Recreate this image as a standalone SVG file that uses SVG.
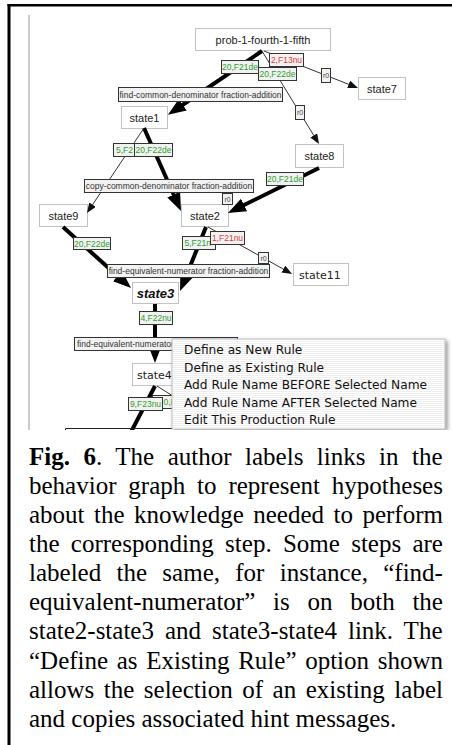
<svg xmlns="http://www.w3.org/2000/svg" width="452" height="745" viewBox="0 0 452 745">
<style>
.nb{fill:#fff;stroke:#c2c2c2;stroke-width:1}
.nt{font-family:'Liberation Sans',Arial,sans-serif;font-size:11px;fill:#222;text-anchor:middle}
.nm{font-family:'DejaVu Sans',sans-serif;font-size:11px;fill:#222}
.thick{stroke:#000;stroke-width:4;fill:none}
.thin{stroke:#333;stroke-width:1;fill:none}
.lb{fill:#f2f2f2;stroke:#333;stroke-width:1}
.lt{font-family:'Liberation Sans',Arial,sans-serif;font-size:8.5px;text-anchor:middle}
.ls{font-family:'Liberation Sans',Arial,sans-serif;font-size:8.5px}
.rule{fill:#333}
.g{fill:#2f9e2f}
.r{fill:#e03a3a}
.r0{font-family:'Liberation Sans',Arial,sans-serif;font-size:7px;fill:#444;text-anchor:middle}
.mi{font-family:'DejaVu Sans',sans-serif;font-size:12.2px;fill:#111}
.cap{font-family:'Liberation Serif','Times New Roman',serif;font-size:25px;fill:#000}
</style>
<defs>
<marker id="ah" viewBox="0 0 18 14" markerWidth="18" markerHeight="14" markerUnits="userSpaceOnUse" refX="4" refY="7" orient="auto"><path d="M0,0 L18,7 L0,14 z" fill="#000"/></marker>
<marker id="at" viewBox="0 0 10 8" markerWidth="10" markerHeight="8" markerUnits="userSpaceOnUse" refX="1" refY="4" orient="auto"><path d="M0,0 L10,4 L0,8 z" fill="#111"/></marker>
<pattern id="stripes" width="4" height="2" patternUnits="userSpaceOnUse"><rect width="4" height="2" fill="#fff"/><rect y="1" width="4" height="1" fill="#efefef"/></pattern>
<clipPath id="shot"><rect x="0" y="0" width="452" height="430"/></clipPath>
<filter id="sh" x="-10%" y="-10%" width="125%" height="130%"><feGaussianBlur in="SourceAlpha" stdDeviation="2"/><feOffset dx="2" dy="2"/><feComponentTransfer><feFuncA type="linear" slope="0.45"/></feComponentTransfer><feMerge><feMergeNode/><feMergeNode in="SourceGraphic"/></feMerge></filter>
</defs>
<rect width="452" height="745" fill="#fff"/>
<g id="frame">
<line x1="9" y1="4" x2="9" y2="745" stroke="#000" stroke-width="3"/>
<line x1="7.5" y1="5.2" x2="452" y2="5.2" stroke="#000" stroke-width="2.5"/>
<line x1="29" y1="15" x2="29" y2="430" stroke="#a8a8a8" stroke-width="1.2"/>
</g>
<g clip-path="url(#shot)">
<g id="prob"><rect class="nb" x="195.5" y="28.5" width="135" height="22"/><text class="nt" x="263" y="43.5">prob-1-fourth-1-fifth</text></g>
<g id="state7"><rect class="nb" x="358.5" y="77.5" width="47" height="22"/><text class="nt" x="382" y="92.5">state7</text></g>
<g id="state1"><rect class="nb" x="121.5" y="106.5" width="46" height="22"/><text class="nt" x="144.5" y="121.5">state1</text></g>
<g id="state8"><rect class="nb" x="295.5" y="144.5" width="48" height="23"/><text class="nt" x="319.5" y="160">state8</text></g>
<g id="state9"><rect class="nb" x="39.5" y="204.5" width="48" height="22"/><text class="nt" x="63.5" y="219.5">state9</text></g>
<g id="state2"><rect class="nb" x="181.5" y="204.5" width="47" height="22"/><text class="nt" x="205" y="219.5">state2</text></g>
<g id="state11"><rect class="nb" x="293.5" y="263.5" width="55" height="22"/><text class="nm" x="299" y="278.5">state11</text></g>
<g id="state3"><rect class="nb" x="132.5" y="282.5" width="46" height="21"/><text class="nt" x="155.5" y="297.5" style="font-weight:bold;font-style:italic;font-size:13px;fill:#111">state3</text></g>
<g id="state4"><rect class="nb" x="132.5" y="363.5" width="48" height="22"/><text class="nm" x="137" y="378.5">state4</text></g>
<g id="connectors">
<line class="thick" x1="262" y1="51" x2="179.5" y2="107" marker-end="url(#ah)"/>
<line class="thin" x1="264" y1="51" x2="349.6" y2="84.7" marker-end="url(#at)"/>
<line class="thin" x1="262" y1="51" x2="314.3" y2="136.3" marker-end="url(#at)"/>
<line class="thick" x1="144" y1="128" x2="175.3" y2="198.2" marker-end="url(#ah)"/>
<line class="thin" x1="144" y1="128" x2="92" y2="205.5" marker-end="url(#at)"/>
<line class="thick" x1="319" y1="168" x2="240.5" y2="206.8" marker-end="url(#ah)"/>
<line class="thick" x1="206" y1="227" x2="185.3" y2="278" marker-end="url(#ah)"/>
<line class="thin" x1="208" y1="227" x2="284.2" y2="269.6" marker-end="url(#at)"/>
<line class="thick" x1="63" y1="227" x2="120.6" y2="278.7" marker-end="url(#ah)"/>
<line class="thick" x1="155" y1="304" x2="155" y2="349" marker-end="url(#ah)"/>
<line class="thick" x1="155" y1="386" x2="131" y2="432"/>
<line class="thin" x1="157" y1="386" x2="176" y2="398"/>
<path class="thin" d="M65.5,432 V428.5 H200" style="stroke:#222"/>
</g>
<g id="labels">
<g><rect class="lb" x="118.5" y="87.5" width="164" height="14"/><text class="lt rule" x="200.5" y="97.5">find-common-denominator fraction-addition</text></g>
<g><rect class="lb" x="221.5" y="60.5" width="37" height="13"/><text class="lt g" x="240" y="70">20,F21de</text></g>
<g><rect class="lb" x="269.5" y="53.5" width="34" height="13"/><text class="lt r" x="286.5" y="63">2,F13nu</text></g>
<g><rect class="lb" x="258.5" y="67.5" width="38" height="13"/><text class="lt g" x="277.5" y="77">20,F22de</text></g>
<g><rect class="lb" x="321.5" y="68.5" width="9" height="14"/><text class="r0" x="326" y="78">r0</text></g>
<g><rect class="lb" x="295.5" y="105.5" width="9" height="14"/><text class="r0" x="300" y="115">r0</text></g>
<g><rect class="lb" x="113.5" y="143.5" width="37" height="13"/><text class="ls g" x="116" y="153">5,F2</text></g>
<g><rect class="lb" x="134.5" y="143.5" width="38" height="13"/><text class="lt g" x="153.5" y="153">20,F22de</text></g>
<g><rect class="lb" x="266.5" y="172.5" width="37" height="13"/><text class="lt g" x="285" y="182">20,F21de</text></g>
<g><rect class="lb" x="84.5" y="179.5" width="169" height="13"/><text class="lt rule" x="169" y="189">copy-common-denominator fraction-addition</text></g>
<g><rect class="lb" x="222.5" y="193.5" width="10" height="11"/><text class="r0" x="227.5" y="201.5">r0</text></g>
<g><rect class="lb" x="73.5" y="237.5" width="37" height="12"/><text class="lt g" x="92" y="246.5">20,F22de</text></g>
<g><rect class="lb" x="182.5" y="236.5" width="33" height="13"/><text class="ls g" x="184.5" y="246">5,F21n</text></g>
<g><rect class="lb" x="210.5" y="231.5" width="34" height="13"/><text class="lt r" x="227.5" y="241">1,F21nu</text></g>
<g><rect class="lb" x="258.5" y="252.5" width="10" height="11"/><text class="r0" x="263.5" y="260.5">r0</text></g>
<g><rect class="lb" x="107.5" y="264.5" width="162" height="13"/><text class="lt rule" x="188.5" y="274">find-equivalent-numerator fraction-addition</text></g>
<g><rect class="lb" x="139.5" y="311.5" width="33" height="13"/><text class="lt g" x="156" y="321">4,F22nu</text></g>
<g><rect class="lb" x="74.5" y="337.5" width="163" height="13"/><text class="ls rule" x="77" y="347">find-equivalent-numerator</text></g>
<g><rect class="lb" x="152.5" y="395.5" width="38" height="13"/><text class="ls g" x="163.5" y="405">0,F</text></g>
<g><rect class="lb" x="128.5" y="397.5" width="34" height="13"/><text class="lt g" x="145.5" y="407">9,F23nu</text></g>
</g>
<g id="menu">
<rect x="172" y="339" width="273" height="90" fill="url(#stripes)" stroke="#b4b4b4" stroke-width="0.8" filter="url(#sh)"/>
<text class="mi" x="184" y="354">Define as New Rule</text>
<text class="mi" x="184" y="371.6">Define as Existing Rule</text>
<text class="mi" x="184" y="389.2">Add Rule Name BEFORE Selected Name</text>
<text class="mi" x="184" y="406.8">Add Rule Name AFTER Selected Name</text>
<text class="mi" x="184" y="424.4">Edit This Production Rule</text>
</g>
</g>
<g id="caption">
<text class="cap" x="29" y="465" word-spacing="7.26"><tspan font-weight="bold">Fig. 6</tspan>. The author labels links in the</text>
<text class="cap" x="29" y="494.1" word-spacing="5.6">behavior graph to represent hypotheses</text>
<text class="cap" x="29" y="523.1" word-spacing="3.23">about the knowledge needed to perform</text>
<text class="cap" x="29" y="552.2" word-spacing="5.03">the corresponding step. Some steps are</text>
<text class="cap" x="29" y="581.3" word-spacing="9.07">labeled the same, for instance, “find-</text>
<text class="cap" x="29" y="610.4" word-spacing="11.5">equivalent-numerator” is on both the</text>
<text class="cap" x="29" y="639.4" word-spacing="4.73">state2-state3 and state3-state4 link. The</text>
<text class="cap" x="29" y="668.5" word-spacing="2.39">“Define as Existing Rule” option shown</text>
<text class="cap" x="29" y="697.6" word-spacing="3.27">allows the selection of an existing label</text>
<text class="cap" x="29" y="726.7">and copies associated hint messages.</text>
</g>
</svg>
